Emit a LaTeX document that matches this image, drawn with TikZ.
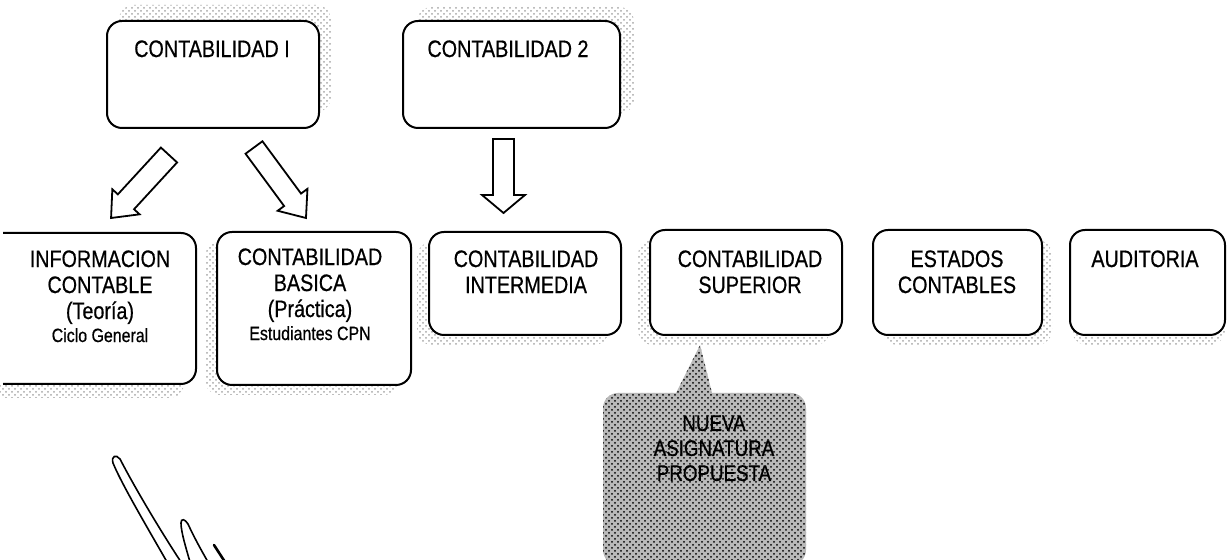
\documentclass[tikz,border=0pt]{standalone}
\usepackage{fontspec}
\setmainfont{Liberation Sans}[FakeStretch=0.83,FakeBold=0.6]
\usetikzlibrary{patterns,fit}
\begin{document}
\begin{tikzpicture}[x=0.5pt,y=-0.5pt,
  box/.style={draw, line width=1pt, rounded corners=7.5pt, fill=white, inner sep=0pt},
  shadowpat/.style={pattern=crosshatch dots, pattern color=gray!70},
  lbl/.style={anchor=north, inner sep=0pt, align=center, font=\fontsize{11.9}{13}\selectfont},
  blk/.style={draw, line width=0.9pt, fill=white, line join=miter},
  pen/.style={line width=0.8pt, line cap=round}]
\useasboundingbox (0,0) rectangle (1228,560);

% ---------- shadows ----------
\fill[shadowpat, rounded corners=7.5pt] (119,5) rectangle (331,112);
\fill[shadowpat, rounded corners=7.5pt] (417,7) rectangle (634,114);
\fill[shadowpat, rounded corners=7.5pt] (-9,245) rectangle (184,398);
\fill[shadowpat, rounded corners=7.5pt] (205,242) rectangle (399,395);
\fill[shadowpat, rounded corners=7.5pt] (417,242) rectangle (609,345);
\fill[shadowpat, rounded corners=7.5pt] (638,240) rectangle (830,345);
\fill[shadowpat, rounded corners=7.5pt] (883,240) rectangle (1052,345);
\fill[shadowpat, rounded corners=7.5pt] (1072,240) rectangle (1225,345);

% ---------- top boxes ----------
\node[box, fit={(107,21) (319,128)}] (c1) {};
\node[box, fit={(403,21) (620,128)}] (c2) {};
\node[lbl] (c1t) at (212,40) {CONTABILIDAD I};
\node[lbl] (c2t) at (508,40) {CONTABILIDAD 2};

% ---------- row boxes ----------
\fill[white, rounded corners=7.5pt] (-10,233) rectangle (196,384);
\draw[line width=1pt, rounded corners=7.5pt] (3,233) -- (196,233) -- (196,384) -- (3,384);
\node[inner sep=0pt, fit={(3,233) (196,384)}] (b1) {};
\node[box, fit={(217,232) (411,385)}] (b2) {};
\node[box, fit={(429,232) (621,335)}] (b3) {};
\node[box, fit={(650,230) (842,335)}] (b4) {};
\node[box, fit={(873,230) (1042,335)}] (b5) {};
\node[box, fit={(1070,230) (1225,335)}] (b6) {};

\node[lbl] (b1t) at (100,250) {INFORMACION\\CONTABLE\\(Teoría)\\[-1.5pt]{\fontsize{9.6}{11}\selectfont Ciclo General}};
\node[lbl] (b2t) at (310,248) {CONTABILIDAD\\BASICA\\(Práctica)\\[-1.5pt]{\fontsize{9.6}{11}\selectfont Estudiantes CPN}};
\node[lbl] (b3t) at (526,250) {CONTABILIDAD\\INTERMEDIA};
\node[lbl] (b4t) at (750,250) {CONTABILIDAD\\SUPERIOR};
\node[lbl] (b5t) at (957,250) {ESTADOS\\CONTABLES};
\node[lbl] (b6t) at (1145,250) {AUDITORIA};

% ---------- block arrows ----------
\begin{scope}[shift={(169,155)}, rotate=227.4]
  \draw[blk] (0,-11) -- (63.6,-11) -- (63.6,-18.5) -- (85.6,0) -- (63.6,18.5) -- (63.6,11) -- (0,11) -- cycle;
\end{scope}
\begin{scope}[shift={(254,147.5)}, rotate=-53.6]
  \draw[blk] (0,-10.5) -- (65,-10.5) -- (65,-18.5) -- (87.6,0) -- (65,18.5) -- (65,10.5) -- (0,10.5) -- cycle;
\end{scope}
\begin{scope}[shift={(503.5,139)}, rotate=-90]
  \draw[blk] (0,-10.5) -- (56,-10.5) -- (56,-21.5) -- (74,0) -- (56,21.5) -- (56,10.5) -- (0,10.5) -- cycle;
\end{scope}

% ---------- callout ----------
\coordinate (tip) at (700,345);
\fill[gray!55, rounded corners=7.5pt] (603,565) -- (603,393) -- (660,393) [sharp corners] -- (676,393) -- (tip) -- (712,393) -- (740,393) [rounded corners=7.5pt] -- (806,393) -- (806,565) -- cycle;
\fill[pattern=crosshatch dots, pattern color=black, rounded corners=7.5pt] (603,565) -- (603,393) -- (660,393) [sharp corners] -- (676,393) -- (tip) -- (712,393) -- (740,393) [rounded corners=7.5pt] -- (806,393) -- (806,565) -- cycle;
\node[lbl, font=\fontsize{11.3}{12.5}\selectfont] (nueva) at (714,415) {NUEVA\\ASIGNATURA\\PROPUESTA};

% ---------- hand sketch ----------
\draw[pen] (167,562) .. controls (150,532) and (122,485) .. (113,463) .. controls (111,456) and (116,454) .. (120,459) .. controls (135,488) and (160,530) .. (181,562);
\draw[pen] (190,562) .. controls (186,548) and (181,532) .. (181,523) .. controls (181,518) and (185,519) .. (188,524) .. controls (194,537) and (200,548) .. (208,562);
\draw[line width=1.3pt, line cap=round] (214,545) -- (225,562);
\end{tikzpicture}
\end{document}
